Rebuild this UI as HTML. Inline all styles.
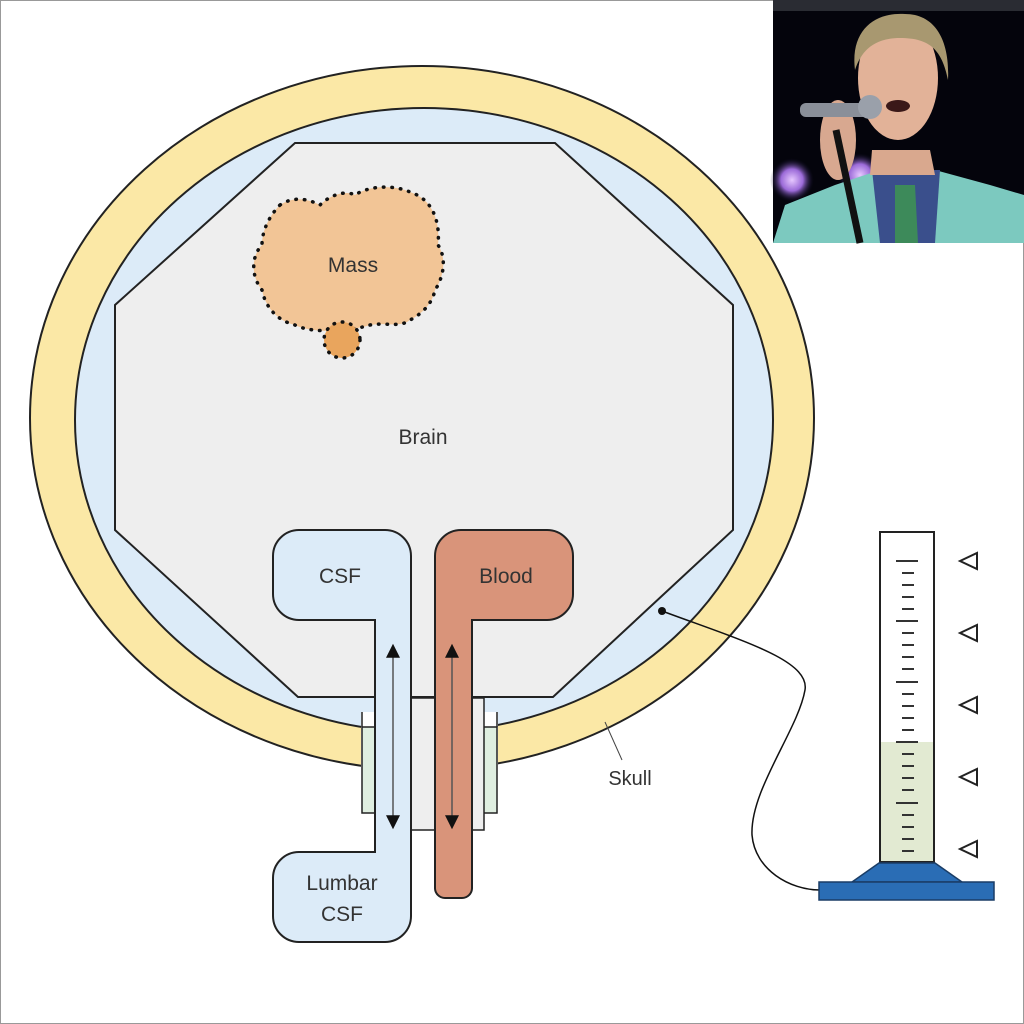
<!DOCTYPE html>
<html><head><meta charset="utf-8"><style>
html,body{margin:0;padding:0;background:#fff}
svg{display:block}
text{font-family:"Liberation Sans","DejaVu Sans",sans-serif;fill:#333}
</style></head><body>
<svg width="1024" height="1024" viewBox="0 0 1024 1024" xmlns="http://www.w3.org/2000/svg">
<defs>
<marker id="ah" viewBox="0 0 10 10" refX="5" refY="5" markerWidth="5" markerHeight="5" markerUnits="userSpaceOnUse" orient="auto-start-reverse"><path d="M0,0 L10,5 L0,10 z" fill="#111"/></marker>
<marker id="ah2" viewBox="0 0 10 10" refX="2" refY="5" markerWidth="16" markerHeight="14" markerUnits="userSpaceOnUse" orient="auto-start-reverse"><path d="M0,0 L10,5 L0,10 z" fill="#111"/></marker>
<radialGradient id="lg"><stop offset="0" stop-color="#e6c8ff"/><stop offset="0.5" stop-color="#9b6ad8"/><stop offset="1" stop-color="#0a0a20" stop-opacity="0"/></radialGradient>
</defs>
<rect x="0.5" y="0.5" width="1023" height="1023" fill="#fff" stroke="#999"/>
<!-- skull -->
<ellipse cx="422" cy="418" rx="392" ry="352" fill="#fbe8a6" stroke="#222" stroke-width="2"/>
<ellipse cx="424" cy="420" rx="349" ry="312" fill="#dcebf8" stroke="#222" stroke-width="2"/>
<!-- gap -->
<rect x="361" y="712" width="137" height="70" fill="#fff"/>
<rect x="362" y="727" width="14" height="86" fill="#dfeee0" stroke="#222" stroke-width="1.5"/>
<rect x="483" y="727" width="14" height="86" fill="#dfeee0" stroke="#222" stroke-width="1.5"/>
<path d="M362,727 L362,712 M497,727 L497,712" stroke="#222" stroke-width="1.5"/>
<rect x="375" y="698" width="109" height="132" fill="#eeeeee" stroke="#222" stroke-width="1.5"/>
<!-- brain -->
<polygon points="295,143 555,143 733,305 733,530 553,697 298,697 115,530 115,305" fill="#eeeeee" stroke="#222" stroke-width="2"/>
<text x="423" y="444" font-size="21" text-anchor="middle">Brain</text>
<!-- mass -->
<path d="M280,205 C295,195 310,200 320,205 C330,195 345,190 355,195 C370,185 395,185 410,192 C435,200 440,225 438,245 C448,260 442,280 435,290 C432,305 420,315 410,320 C400,328 385,322 370,325 C355,330 315,335 295,325 C275,320 265,305 262,290 C250,275 252,255 262,245 C262,230 270,215 280,205 Z" fill="#f2c596" stroke="#111" stroke-width="3.5" stroke-dasharray="0.5 8" stroke-linecap="round"/>
<circle cx="342" cy="340" r="18" fill="#e9a55d" stroke="#111" stroke-width="3.5" stroke-dasharray="0.5 8" stroke-linecap="round"/>
<text x="353" y="272" font-size="21" text-anchor="middle">Mass</text>
<!-- CSF -->
<path d="M299,530 H385 A26,26 0 0 1 411,556 V916 A26,26 0 0 1 385,942 H299 A26,26 0 0 1 273,916 V878 A26,26 0 0 1 299,852 H375 V620 H299 A26,26 0 0 1 273,594 V556 A26,26 0 0 1 299,530 Z" fill="#dcebf8" stroke="#222" stroke-width="2"/>
<text x="340" y="583" font-size="21" text-anchor="middle">CSF</text>
<text x="342" y="890" font-size="21" text-anchor="middle">Lumbar</text>
<text x="342" y="921" font-size="21" text-anchor="middle">CSF</text>
<line x1="393" y1="655" x2="393" y2="818" stroke="#555" stroke-width="1.5" marker-start="url(#ah2)" marker-end="url(#ah2)"/>
<!-- Blood -->
<path d="M461,530 H547 A26,26 0 0 1 573,556 V594 A26,26 0 0 1 547,620 H472 V888 A10,10 0 0 1 462,898 H445 A10,10 0 0 1 435,888 V556 A26,26 0 0 1 461,530 Z" fill="#d9947a" stroke="#222" stroke-width="2"/>
<text x="506" y="583" font-size="21" text-anchor="middle">Blood</text>
<line x1="452" y1="655" x2="452" y2="818" stroke="#555" stroke-width="1.5" marker-start="url(#ah2)" marker-end="url(#ah2)"/>
<!-- skull label -->
<line x1="605" y1="722" x2="622" y2="760" stroke="#444" stroke-width="1"/>
<text x="630" y="785" font-size="20" text-anchor="middle">Skull</text>
<!-- wire -->
<circle cx="662" cy="611" r="4" fill="#111"/>
<path d="M662,611 C740,640 810,660 805,690 C798,730 750,790 752,835 C755,870 790,890 820,890" fill="none" stroke="#111" stroke-width="1.5"/>
<!-- cylinder -->
<rect x="880" y="532" width="54" height="330" fill="#fff" stroke="#222" stroke-width="2"/>
<rect x="881" y="742" width="52" height="119" fill="#e2ead2"/>
<g stroke="#333" stroke-width="2">
<line x1="896" y1="561" x2="918" y2="561"/><line x1="902" y1="573" x2="914" y2="573"/><line x1="902" y1="585" x2="914" y2="585"/><line x1="902" y1="597" x2="914" y2="597"/><line x1="902" y1="609" x2="914" y2="609"/>
<line x1="896" y1="621" x2="918" y2="621"/><line x1="902" y1="633" x2="914" y2="633"/><line x1="902" y1="645" x2="914" y2="645"/><line x1="902" y1="657" x2="914" y2="657"/><line x1="902" y1="669" x2="914" y2="669"/>
<line x1="896" y1="682" x2="918" y2="682"/><line x1="902" y1="694" x2="914" y2="694"/><line x1="902" y1="706" x2="914" y2="706"/><line x1="902" y1="718" x2="914" y2="718"/><line x1="902" y1="730" x2="914" y2="730"/>
<line x1="896" y1="742" x2="918" y2="742"/><line x1="902" y1="754" x2="914" y2="754"/><line x1="902" y1="766" x2="914" y2="766"/><line x1="902" y1="778" x2="914" y2="778"/><line x1="902" y1="790" x2="914" y2="790"/>
<line x1="896" y1="803" x2="918" y2="803"/><line x1="902" y1="815" x2="914" y2="815"/><line x1="902" y1="827" x2="914" y2="827"/><line x1="902" y1="839" x2="914" y2="839"/><line x1="902" y1="851" x2="914" y2="851"/>
</g>
<polygon points="879,863 935,863 962,882 852,882" fill="#2a6db5" stroke="#1a3d66" stroke-width="1.5"/>
<rect x="819" y="882" width="175" height="18" fill="#2a6db5" stroke="#1a3d66" stroke-width="1.5"/>
<g fill="none" stroke="#222" stroke-width="2">
<polygon points="960,561 977,553 977,569"/><polygon points="960,633 977,625 977,641"/><polygon points="960,705 977,697 977,713"/><polygon points="960,777 977,769 977,785"/><polygon points="960,849 977,841 977,857"/>
</g>
<!-- photo -->
<g>
<rect x="773" y="0" width="251" height="243" fill="#04040c"/>
<rect x="773" y="0" width="251" height="11" fill="#2a2c33"/>
<circle cx="792" cy="180" r="22" fill="url(#lg)"/>
<circle cx="860" cy="175" r="22" fill="url(#lg)"/>
<path d="M773,243 L785,205 L835,185 L880,170 L935,170 L990,185 L1024,195 L1024,243 Z" fill="#7cc9bf"/>
<path d="M872,170 L940,170 L935,243 L880,243 Z" fill="#3a4f8c"/>
<path d="M895,185 L915,185 L918,243 L895,243 Z" fill="#3d8a5a"/>
<path d="M872,150 L930,150 L935,175 L870,175 Z" fill="#d9a88e"/>
<ellipse cx="898" cy="78" rx="40" ry="62" fill="#e2b298"/>
<path d="M855,70 C850,30 875,12 905,14 C935,14 950,40 948,80 C942,50 930,38 900,38 C870,38 860,55 855,70 Z" fill="#a89870"/>
<ellipse cx="898" cy="106" rx="12" ry="6" fill="#3a1818"/>
<ellipse cx="838" cy="140" rx="18" ry="40" fill="#d8a890"/>
<rect x="800" y="103" width="70" height="14" rx="6" fill="#8a8f99"/>
<circle cx="870" cy="107" r="12" fill="#9aa0aa"/>
<line x1="836" y1="130" x2="860" y2="243" stroke="#111" stroke-width="7"/>
</g>
</svg>
</body></html>
